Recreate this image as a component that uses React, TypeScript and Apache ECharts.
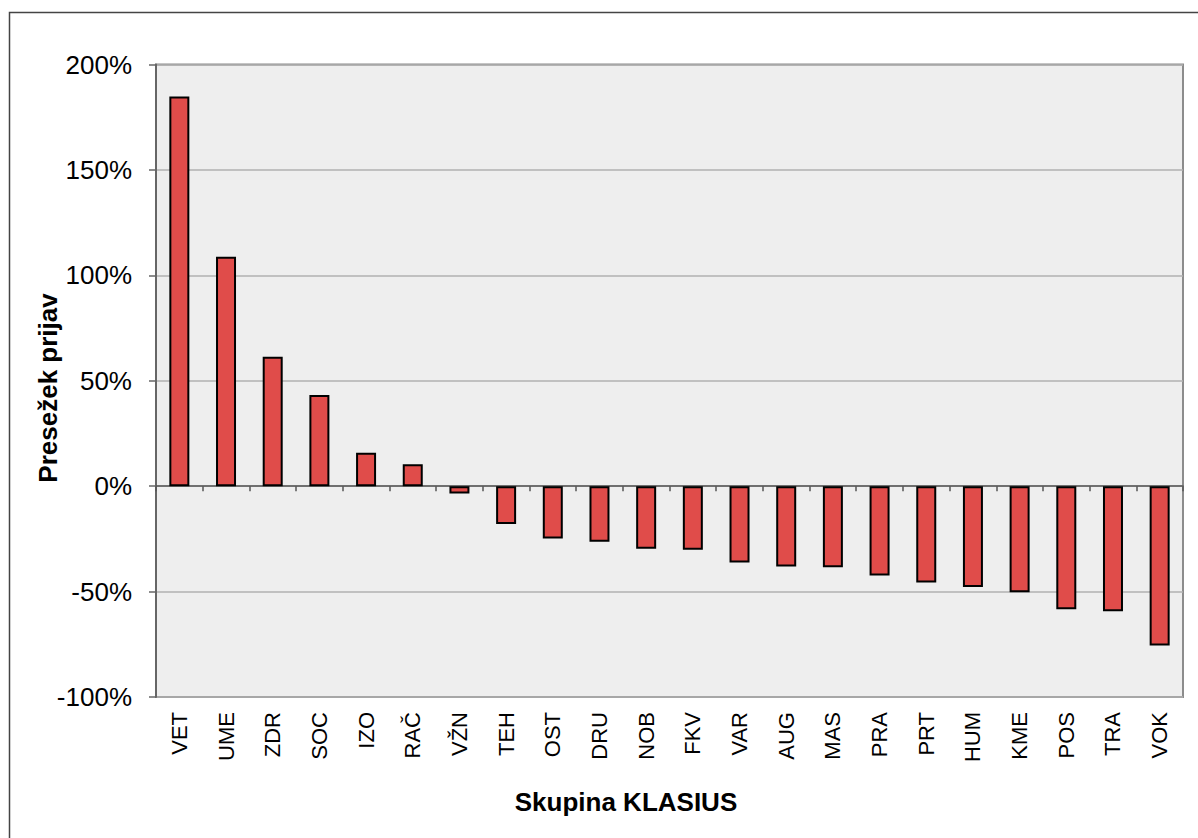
import React, { useEffect, useRef } from "react";
import * as echarts from "echarts";

const categories = ["VET", "UME", "ZDR", "SOC", "IZO", "RAČ", "VŽN", "TEH", "OST", "DRU", "NOB", "FKV", "VAR", "AUG", "MAS", "PRA", "PRT", "HUM", "KME", "POS", "TRA", "VOK"];
const values = [184.8, 108.8, 61.4, 43.2, 15.8, 10.4, -3.5, -18.0, -24.8, -26.4, -29.7, -30.2, -36.2, -38.1, -38.4, -42.4, -45.7, -47.8, -50.3, -58.4, -59.3, -75.6];
const yTicks = { min: -100, max: 200, interval: 50 };
const yTitle = "Presežek prijav";
const xTitle = "Skupina KLASIUS";

const FONT = "'Liberation Sans', Arial, sans-serif";

export default function App() {
  const ref = useRef<HTMLDivElement>(null);
  useEffect(() => {
    if (!ref.current) return;
    const chart = echarts.init(ref.current, undefined, { renderer: "svg" });
    chart.setOption({
      animation: false,
      backgroundColor: "#ffffff",
      grid: {
        left: 156,
        top: 64.5,
        right: 15,
        bottom: 141,
        show: true,
        backgroundColor: "#eeeeee",
        borderColor: "#8c8c8c",
        borderWidth: 2,
        containLabel: false,
      },
      xAxis: [
        {
          type: "category",
          data: categories,
          axisLine: { onZero: true, lineStyle: { color: "#555555", width: 1.5 } },
          axisTick: { show: true, length: 5, inside: false, lineStyle: { color: "#555555", width: 1.5 } },
          axisLabel: { show: false },
          splitLine: { show: false },
        },
        {
          type: "category",
          data: categories,
          position: "bottom",
          axisLine: { show: false, onZero: false },
          axisTick: { show: false },
          axisLabel: {
            show: true,
            rotate: 90,
            margin: 15,
            fontSize: 22,
            fontFamily: FONT,
            color: "#000000",
          },
          splitLine: { show: false },
        },
      ],
      yAxis: {
        type: "value",
        min: yTicks.min,
        max: yTicks.max,
        interval: yTicks.interval,
        axisLine: { show: true, onZero: false, lineStyle: { color: "#666666", width: 2 } },
        axisTick: { show: true, length: 7, lineStyle: { color: "#666666", width: 1.5 } },
        axisLabel: {
          formatter: "{value}%",
          fontSize: 26,
          fontFamily: FONT,
          color: "#000000",
          margin: 24,
        },
        splitLine: { show: true, lineStyle: { color: "#b0b0b0", width: 1.5 } },
      },
      series: [
        {
          type: "bar",
          xAxisIndex: 0,
          data: values,
          barWidth: 20,
          itemStyle: { color: "#e04c4a", borderColor: "#000000", borderWidth: 2 },
        },
      ],
      graphic: [
        {
          type: "rect",
          shape: { x: 9.5, y: 12.5, width: 1300, height: 900 },
          style: { fill: "none", stroke: "#444444", lineWidth: 1.5 },
          silent: true,
          z: -1,
        },
        {
          type: "text",
          x: 48,
          y: 388,
          rotation: Math.PI / 2,
          style: {
            text: yTitle,
            fontSize: 26,
            fontWeight: "bold",
            fontFamily: FONT,
            fill: "#000000",
            textAlign: "center",
            textVerticalAlign: "middle",
          },
        },
        {
          type: "text",
          x: 626,
          y: 802,
          style: {
            text: xTitle,
            fontSize: 26,
            fontWeight: "bold",
            fontFamily: FONT,
            fill: "#000000",
            textAlign: "center",
            textVerticalAlign: "middle",
          },
        },
      ],
    });
    return () => chart.dispose();
  }, []);
  return (
    <div
      ref={ref}
      style={{ position: "absolute", left: 0, top: 0, width: 1198, height: 838 }}
    />
  );
}
